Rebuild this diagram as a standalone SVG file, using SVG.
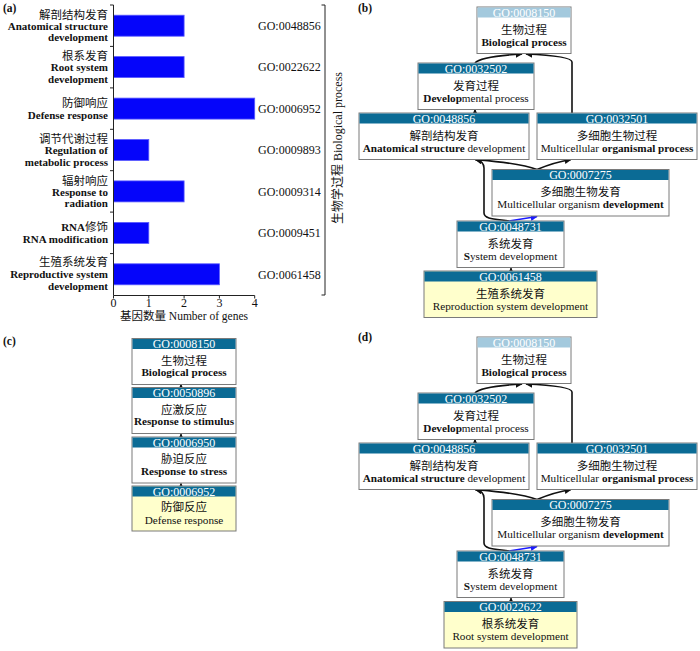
<svg xmlns="http://www.w3.org/2000/svg" width="700" height="651" viewBox="0 0 700 651">
<style>
text { font-family: "Liberation Serif", "Noto Sans CJK SC", serif; fill: #111; }
.pl { font-size: 11.5px; font-weight: bold; }
.lab { font-size: 11px; font-weight: bold; text-anchor: end; }
.labz { font-size: 11.5px; text-anchor: end; }
.go { font-size: 12px; }
.tk { font-size: 12px; text-anchor: middle; }
.ax { stroke: #222; stroke-width: 1; fill: none; }
.bar { fill: #0505fa; stroke: #5a5aff; stroke-width: 0.8; }
.box { fill: #fff; stroke: #7a7a7a; stroke-width: 1; }
.yel { fill: #ffffcc; stroke: #7a7a7a; stroke-width: 1; }
.hd { fill: #0b6b95; }
.hl { fill: #a3c9dd; }
.gid { fill: #fff; font-size: 12px; text-anchor: middle; }
.zh { font-size: 11.5px; text-anchor: middle; }
.en { font-size: 11.2px; text-anchor: middle; }
.b { font-weight: bold; }
.e { stroke: #111; stroke-width: 1.6; fill: none; marker-end: url(#ah); }
.eb { stroke: #1a1aff; stroke-width: 1.6; fill: none; marker-end: url(#abl); }
.es { stroke: #111; stroke-width: 1.2; fill: none; marker-end: url(#asm); }
</style>
<defs>
<marker id="ah" viewBox="0 0 10 10" refX="9" refY="5" markerWidth="7" markerHeight="7" markerUnits="userSpaceOnUse" orient="auto"><path d="M0,0 L10,5 L0,10 z" fill="#111"/></marker>
<marker id="abl" viewBox="0 0 10 10" refX="9" refY="5" markerWidth="7" markerHeight="7" markerUnits="userSpaceOnUse" orient="auto"><path d="M0,0 L10,5 L0,10 z" fill="#1a1aff"/></marker>
<marker id="asm" viewBox="0 0 10 10" refX="9" refY="5" markerWidth="6" markerHeight="7" markerUnits="userSpaceOnUse" orient="auto"><path d="M0,0 L10,5 L0,10 z" fill="#111"/></marker>
</defs>
<rect width="700" height="651" fill="#fff"/>

<!-- Panel labels -->
<text class="pl" x="3" y="12">(a)</text>
<text class="pl" x="358" y="12">(b)</text>
<text class="pl" x="3" y="345">(c)</text>
<text class="pl" x="358" y="341">(d)</text>

<!-- Panel (a): bar chart -->
<g id="chart-a">
  <g id="bars">
    <rect class="bar" x="113.5" y="15.2" width="70.6" height="21"/>
    <rect class="bar" x="113.5" y="56.6" width="70.6" height="21"/>
    <rect class="bar" x="113.5" y="98.1" width="141.2" height="21"/>
    <rect class="bar" x="113.5" y="139.5" width="35.3" height="21"/>
    <rect class="bar" x="113.5" y="180.9" width="70.6" height="21"/>
    <rect class="bar" x="113.5" y="222.4" width="35.3" height="21"/>
    <rect class="bar" x="113.5" y="263.8" width="105.9" height="21"/>
  </g>
  <g id="axes">
    <path class="ax" d="M113.5,5 V295.5 H254.7"/>
    <path class="ax" d="M110,5 H113.5 M110,46.4 H113.5 M110,87.9 H113.5 M110,129.3 H113.5 M110,170.7 H113.5 M110,212.1 H113.5 M110,253.6 H113.5"/>
    <path class="ax" d="M113.5,295.5 V298.5 M148.8,295.5 V298.5 M184.1,295.5 V298.5 M219.4,295.5 V298.5 M254.7,295.5 V298.5"/>
    <text class="tk" x="113.5" y="307">0</text>
    <text class="tk" x="148.8" y="307">1</text>
    <text class="tk" x="184.1" y="307">2</text>
    <text class="tk" x="219.4" y="307">3</text>
    <text class="tk" x="254.7" y="307">4</text>
    <text x="184" y="320" font-size="11.5" text-anchor="middle">基因数量 Number of genes</text>
  </g>
  <g id="cat-labels">
    <text class="labz" x="108" y="18.9">解剖结构发育</text>
    <text class="lab" x="108" y="30">Anatomical structure</text>
    <text class="lab" x="108" y="41.3">development</text>

    <text class="labz" x="108" y="60.3">根系发育</text>
    <text class="lab" x="108" y="71.4">Root system</text>
    <text class="lab" x="108" y="82.7">development</text>

    <text class="labz" x="108" y="106.6">防御响应</text>
    <text class="lab" x="108" y="118.6">Defense response</text>

    <text class="labz" x="108" y="143.2">调节代谢过程</text>
    <text class="lab" x="108" y="154.3">Regulation of</text>
    <text class="lab" x="108" y="165.6">metabolic process</text>

    <text class="labz" x="108" y="184.6">辐射响应</text>
    <text class="lab" x="108" y="195.7">Response to</text>
    <text class="lab" x="108" y="207">radiation</text>

    <text class="labz" x="108" y="230.9"><tspan class="b" font-size="11">RNA</tspan>修饰</text>
    <text class="lab" x="108" y="242.9">RNA modification</text>

    <text class="labz" x="108" y="266.3">生殖系统发育</text>
    <text class="lab" x="108" y="278.4">Reproductive system</text>
    <text class="lab" x="108" y="289.9">development</text>
  </g>
  <g id="go-labels">
    <text class="go" x="258" y="30">GO:0048856</text>
    <text class="go" x="258" y="71.4">GO:0022622</text>
    <text class="go" x="258" y="112.9">GO:0006952</text>
    <text class="go" x="258" y="154.3">GO:0009893</text>
    <text class="go" x="258" y="195.7">GO:0009314</text>
    <text class="go" x="258" y="237.2">GO:0009451</text>
    <text class="go" x="258" y="278.6">GO:0061458</text>
  </g>
  <g id="bracket">
    <path class="ax" d="M321.5,5 H325 V295 H321.5"/>
    <text transform="translate(342,148) rotate(-90)" font-size="12" text-anchor="middle">生物学过程 Biological process</text>
  </g>
</g>

<!-- Panel (b) -->
<g id="panel-b">
  <g id="b-edges">
    <path class="e" d="M475,63 C480,57 505,55 522,54"/>
    <path class="e" d="M572,113 L572,62 C572,57 548,55 526,54"/>
    <path class="es" d="M475,113 L475,109.5"/>
    <path class="e" d="M537,169.5 C520,163 492,161 475,159.5"/>
    <path class="e" d="M537,169.5 C550,164 562,161 571,159.5"/>
    <path class="e" d="M509,221 C495,219 484,219 484,213 L484,168 C484,163 480,160.5 475.5,159.5"/>
    <path class="eb" d="M509,221 L537,216.5"/>
    <path class="es" d="M511,271 L511,268"/>
  </g>
  <g id="b-GO0008150">
    <rect class="box" x="477" y="7" width="94" height="46.5"/>
    <rect class="hl" x="477.5" y="7.5" width="93" height="10"/>
    <text class="gid" x="524" y="16.5">GO:0008150</text>
    <text class="zh" x="524" y="33.5">生物过程</text>
    <text class="en b" x="524" y="45.5">Biological process</text>
  </g>
  <g id="b-GO0032502">
    <rect class="box" x="418" y="63" width="116" height="46.5"/>
    <rect class="hd" x="418.5" y="63.5" width="115" height="10"/>
    <text class="gid" x="476" y="72.5">GO:0032502</text>
    <text class="zh" x="476" y="89.5">发育过程</text>
    <text class="en" x="476" y="101.5"><tspan class="b">Develop</tspan>mental process</text>
  </g>
  <g id="b-GO0048856">
    <rect class="box" x="359" y="113" width="170" height="46.5"/>
    <rect class="hd" x="359.5" y="113.5" width="169" height="10"/>
    <text class="gid" x="444" y="122.5">GO:0048856</text>
    <text class="zh" x="444" y="139.5">解剖结构发育</text>
    <text class="en" x="444" y="151.5"><tspan class="b">Anatomical structure </tspan>development</text>
  </g>
  <g id="b-GO0032501">
    <rect class="box" x="537" y="113" width="160" height="46.5"/>
    <rect class="hd" x="537.5" y="113.5" width="159" height="10"/>
    <text class="gid" x="617" y="122.5">GO:0032501</text>
    <text class="zh" x="617" y="139.5">多细胞生物过程</text>
    <text class="en" x="617" y="151.5">Multicellular <tspan class="b">organismal process</tspan></text>
  </g>
  <g id="b-GO0007275">
    <rect class="box" x="492" y="169.5" width="177" height="46.5"/>
    <rect class="hd" x="492.5" y="170" width="176" height="10"/>
    <text class="gid" x="580.5" y="179">GO:0007275</text>
    <text class="zh" x="580.5" y="196">多细胞生物发育</text>
    <text class="en" x="580.5" y="208">Multicellular organism <tspan class="b">development</tspan></text>
  </g>
  <g id="b-GO0048731">
    <rect class="box" x="457" y="221" width="107" height="46.5"/>
    <rect class="hd" x="457.5" y="221.5" width="106" height="10"/>
    <text class="gid" x="510.5" y="230.5">GO:0048731</text>
    <text class="zh" x="510.5" y="247.5">系统发育</text>
    <text class="en" x="510.5" y="259.5"><tspan class="b">S</tspan>ystem development</text>
  </g>
  <g id="b-GO0061458">
    <rect class="yel" x="424" y="271" width="173" height="46.5"/>
    <rect class="hd" x="424.5" y="271.5" width="172" height="10"/>
    <text class="gid" x="510.5" y="280.5">GO:0061458</text>
    <text class="zh" x="510.5" y="297.5">生殖系统发育</text>
    <text class="en" x="510.5" y="309.5">Reproduction system development</text>
  </g>
</g>

<!-- Panel (c) -->
<g id="panel-c">
  <g id="c-edges">
    <path class="es" d="M181,387.5 L181,384.5"/>
    <path class="es" d="M181,437 L181,434"/>
    <path class="es" d="M181,486 L181,483.5"/>
  </g>
  <g id="c-GO0008150">
    <rect class="box" x="132" y="338.5" width="104" height="46"/>
    <rect class="hd" x="132.5" y="339" width="103" height="10"/>
    <text class="gid" x="184" y="348">GO:0008150</text>
    <text class="zh" x="184" y="364.5">生物过程</text>
    <text class="en b" x="184" y="376">Biological process</text>
  </g>
  <g id="c-GO0050896">
    <rect class="box" x="132" y="387.5" width="104" height="46"/>
    <rect class="hd" x="132.5" y="388" width="103" height="10"/>
    <text class="gid" x="184" y="397">GO:0050896</text>
    <text class="zh" x="184" y="413.5">应激反应</text>
    <text class="en b" x="184" y="425">Response to stimulus</text>
  </g>
  <g id="c-GO0006950">
    <rect class="box" x="132" y="437" width="104" height="46"/>
    <rect class="hd" x="132.5" y="437.5" width="103" height="10"/>
    <text class="gid" x="184" y="446.5">GO:0006950</text>
    <text class="zh" x="184" y="463">胁迫反应</text>
    <text class="en b" x="184" y="474.5">Response to stress</text>
  </g>
  <g id="c-GO0006952">
    <rect class="yel" x="132" y="486" width="104" height="45"/>
    <rect class="hd" x="132.5" y="486.5" width="103" height="10"/>
    <text class="gid" x="184" y="495.5">GO:0006952</text>
    <text class="zh" x="184" y="511">防御反应</text>
    <text class="en" x="184" y="523.5">Defense response</text>
  </g>
</g>

<!-- Panel (d) -->
<g id="panel-d" transform="translate(0,330)">
  <g id="d-edges">
    <path class="e" d="M475,63 C480,57 505,55 522,54"/>
    <path class="e" d="M572,113 L572,62 C572,57 548,55 526,54"/>
    <path class="es" d="M475,113 L475,109.5"/>
    <path class="e" d="M537,169.5 C520,163 492,161 475,159.5"/>
    <path class="e" d="M537,169.5 C550,164 562,161 571,159.5"/>
    <path class="e" d="M509,221 C495,219 484,219 484,213 L484,168 C484,163 480,160.5 475.5,159.5"/>
    <path class="eb" d="M509,221 L537,216.5"/>
    <path class="es" d="M511,271.5 L511,268"/>
  </g>
  <g id="d-GO0008150">
    <rect class="box" x="477" y="7" width="94" height="46.5"/>
    <rect class="hl" x="477.5" y="7.5" width="93" height="10"/>
    <text class="gid" x="524" y="16.5">GO:0008150</text>
    <text class="zh" x="524" y="33.5">生物过程</text>
    <text class="en b" x="524" y="45.5">Biological process</text>
  </g>
  <g id="d-GO0032502">
    <rect class="box" x="418" y="63" width="116" height="46.5"/>
    <rect class="hd" x="418.5" y="63.5" width="115" height="10"/>
    <text class="gid" x="476" y="72.5">GO:0032502</text>
    <text class="zh" x="476" y="89.5">发育过程</text>
    <text class="en" x="476" y="101.5"><tspan class="b">Develop</tspan>mental process</text>
  </g>
  <g id="d-GO0048856">
    <rect class="box" x="359" y="113" width="170" height="46.5"/>
    <rect class="hd" x="359.5" y="113.5" width="169" height="10"/>
    <text class="gid" x="444" y="122.5">GO:0048856</text>
    <text class="zh" x="444" y="139.5">解剖结构发育</text>
    <text class="en" x="444" y="151.5"><tspan class="b">Anatomical structure </tspan>development</text>
  </g>
  <g id="d-GO0032501">
    <rect class="box" x="537" y="113" width="160" height="46.5"/>
    <rect class="hd" x="537.5" y="113.5" width="159" height="10"/>
    <text class="gid" x="617" y="122.5">GO:0032501</text>
    <text class="zh" x="617" y="139.5">多细胞生物过程</text>
    <text class="en" x="617" y="151.5">Multicellular <tspan class="b">organismal process</tspan></text>
  </g>
  <g id="d-GO0007275">
    <rect class="box" x="492" y="169.5" width="177" height="46.5"/>
    <rect class="hd" x="492.5" y="170" width="176" height="10"/>
    <text class="gid" x="580.5" y="179">GO:0007275</text>
    <text class="zh" x="580.5" y="196">多细胞生物发育</text>
    <text class="en" x="580.5" y="208">Multicellular organism <tspan class="b">development</tspan></text>
  </g>
  <g id="d-GO0048731">
    <rect class="box" x="457" y="221" width="107" height="46.5"/>
    <rect class="hd" x="457.5" y="221.5" width="106" height="10"/>
    <text class="gid" x="510.5" y="230.5">GO:0048731</text>
    <text class="zh" x="510.5" y="247.5">系统发育</text>
    <text class="en" x="510.5" y="259.5"><tspan class="b">S</tspan>ystem development</text>
  </g>
  <g id="d-GO0022622">
    <rect class="yel" x="444" y="271.5" width="133" height="46.5"/>
    <rect class="hd" x="444.5" y="272" width="132" height="10"/>
    <text class="gid" x="510.5" y="281">GO:0022622</text>
    <text class="zh" x="510.5" y="298">根系统发育</text>
    <text class="en" x="510.5" y="310">Root system development</text>
  </g>
</g>
</svg>
